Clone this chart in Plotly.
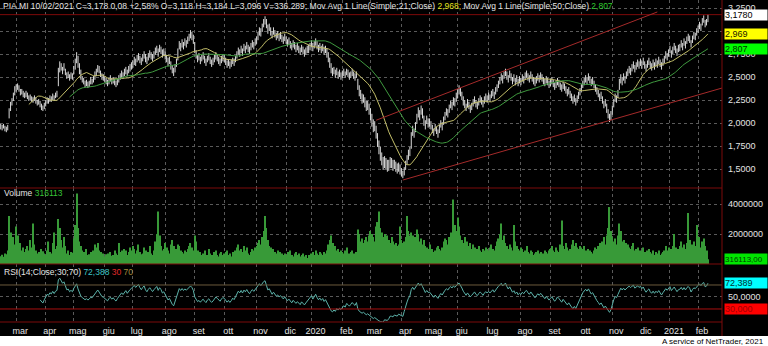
import pandas as pd
import plotly.graph_objects as go
from plotly.subplots import make_subplots

FONT = "Liberation Sans, Arial, sans-serif"
TEXT = "#e4e4e4"
BORDER = "#7d0a0a"
GRID = "#5a5a5a"

# Borsa Italiana weekday closures inside the period
holidays = ["2019-04-19", "2019-04-22", "2019-05-01", "2019-08-15", "2019-12-24",
            "2019-12-25", "2019-12-26", "2019-12-31", "2020-01-01", "2020-04-10",
            "2020-04-13", "2020-05-01", "2020-12-24", "2020-12-25", "2020-12-31",
            "2021-01-01"]
sessions = pd.bdate_range("2019-02-14", "2021-02-10")
dates = sessions[~sessions.isin(pd.to_datetime(holidays))]

# PIA.MI daily sessions, one line per month
closes = [
    1.96, 1.95, 1.97, 1.94, 1.93, 1.96, 2.12, 2.20, 2.24, 2.30, 2.36,
    2.38, 2.40, 2.36, 2.33, 2.34, 2.31, 2.30, 2.32, 2.29, 2.27, 2.28, 2.26, 2.25, 2.27, 2.24, 2.22, 2.23, 2.20, 2.18, 2.16, 2.19,
    2.22, 2.25, 2.24, 2.27, 2.26, 2.29, 2.27, 2.30, 2.31, 2.55, 2.63, 2.60, 2.57, 2.62, 2.56, 2.51, 2.53, 2.49, 2.52, 2.50,
    2.58, 2.66, 2.72, 2.64, 2.57, 2.50, 2.47, 2.45, 2.42, 2.44, 2.41, 2.43, 2.46, 2.45, 2.48, 2.52, 2.55, 2.60, 2.57, 2.53, 2.50, 2.49,
    2.47, 2.45, 2.43, 2.46, 2.48, 2.45, 2.47, 2.44, 2.42, 2.45, 2.48, 2.50, 2.53, 2.51, 2.55, 2.57, 2.54, 2.58, 2.60, 2.62,
    2.64, 2.68, 2.66, 2.70, 2.72, 2.69, 2.67, 2.71, 2.74, 2.70, 2.68, 2.72, 2.75, 2.73, 2.71, 2.74, 2.78, 2.80, 2.76, 2.81, 2.79, 2.75, 2.77,
    2.73, 2.70, 2.66, 2.68, 2.62, 2.58, 2.55, 2.60, 2.66, 2.77, 2.85, 2.82, 2.87, 2.84, 2.88, 2.86, 2.90, 2.93, 2.97, 2.95, 2.91,
    2.80, 2.74, 2.70, 2.72, 2.68, 2.71, 2.73, 2.69, 2.66, 2.70, 2.72, 2.68, 2.65, 2.67, 2.70, 2.73, 2.71, 2.68, 2.66, 2.69, 2.71,
    2.70, 2.67, 2.64, 2.66, 2.63, 2.65, 2.68, 2.66, 2.70, 2.74, 2.78, 2.76, 2.80, 2.77, 2.82, 2.80, 2.84, 2.81, 2.79, 2.83, 2.86, 2.84, 2.88,
    2.90, 2.95, 3.00, 2.98, 3.04, 3.09, 3.12, 3.06, 3.01, 3.04, 2.99, 2.96, 3.00, 2.97, 2.94, 2.96, 2.93, 2.95, 2.92, 2.90, 2.93,
    2.90, 2.87, 2.89, 2.85, 2.83, 2.86, 2.84, 2.81, 2.83, 2.80, 2.78, 2.81, 2.79, 2.76, 2.78, 2.80, 2.82, 2.83,
    2.86, 2.82, 2.85, 2.88, 2.84, 2.81, 2.83, 2.80, 2.82, 2.78, 2.80, 2.76, 2.70, 2.64, 2.58, 2.55, 2.57, 2.53, 2.56, 2.52, 2.54, 2.51,
    2.53, 2.55, 2.52, 2.56, 2.54, 2.51, 2.53, 2.55, 2.52, 2.50, 2.53, 2.40, 2.33, 2.30, 2.26, 2.27, 2.22, 2.18, 2.19, 2.14,
    2.08, 2.02, 1.96, 1.97, 1.88, 1.80, 1.72, 1.65, 1.60, 1.55, 1.58, 1.56, 1.52, 1.54, 1.57, 1.56, 1.53, 1.55, 1.52, 1.50, 1.52, 1.49,
    1.46, 1.43, 1.48, 1.55, 1.60, 1.66, 1.70, 1.85, 1.92, 1.88, 1.96, 2.05, 2.12, 2.08, 2.15, 2.10, 2.02, 1.98, 2.04, 2.00,
    2.01, 1.97, 1.93, 1.90, 1.95, 1.92, 1.88, 1.94, 1.99, 1.96, 2.03, 2.08, 2.12, 2.10, 2.16, 2.20, 2.18, 2.24, 2.22, 2.28,
    2.32, 2.36, 2.33, 2.29, 2.24, 2.20, 2.17, 2.22, 2.19, 2.15, 2.18, 2.22, 2.25, 2.21, 2.19, 2.23, 2.26, 2.24, 2.21, 2.25, 2.28, 2.26,
    2.29, 2.27, 2.31, 2.33, 2.30, 2.35, 2.38, 2.42, 2.46, 2.50, 2.47, 2.52, 2.55, 2.51, 2.48, 2.53, 2.50, 2.46, 2.49, 2.45, 2.48, 2.44, 2.47,
    2.45, 2.49, 2.47, 2.51, 2.53, 2.50, 2.48, 2.52, 2.49, 2.46, 2.44, 2.47, 2.50, 2.48, 2.51, 2.49, 2.46, 2.44, 2.47, 2.45, 2.42,
    2.44, 2.46, 2.43, 2.40, 2.42, 2.45, 2.43, 2.40, 2.38, 2.41, 2.39, 2.36, 2.33, 2.35, 2.31, 2.28, 2.25, 2.27, 2.23, 2.26, 2.30, 2.34,
    2.38, 2.42, 2.45, 2.48, 2.46, 2.50, 2.47, 2.44, 2.46, 2.42, 2.38, 2.35, 2.32, 2.28, 2.30, 2.25, 2.20, 2.22, 2.16, 2.10, 2.05, 2.08,
    2.15, 2.22, 2.28, 2.26, 2.32, 2.42, 2.48, 2.45, 2.50, 2.47, 2.52, 2.55, 2.58, 2.56, 2.60, 2.63, 2.59, 2.62, 2.65, 2.63, 2.66,
    2.63, 2.67, 2.63, 2.60, 2.64, 2.67, 2.63, 2.61, 2.65, 2.62, 2.66, 2.64, 2.68, 2.65, 2.62, 2.66, 2.69, 2.74, 2.72, 2.76,
    2.80, 2.75, 2.79, 2.83, 2.80, 2.77, 2.81, 2.82, 2.86, 2.83, 2.88, 2.85, 2.90, 2.93, 2.91, 2.86, 2.91, 2.95, 2.94, 2.99,
    3.02, 3.06, 3.04, 3.10, 3.13, 3.08, 3.098, 3.178,
]

highs = [
    1.99, 1.98, 1.99, 1.97, 1.96, 1.98, 2.16, 2.23, 2.27, 2.33, 2.40,
    2.42, 2.43, 2.41, 2.37, 2.37, 2.35, 2.33, 2.35, 2.33, 2.30, 2.31, 2.29, 2.28, 2.30, 2.28, 2.25, 2.26, 2.24, 2.21, 2.19, 2.22,
    2.25, 2.28, 2.27, 2.30, 2.29, 2.32, 2.30, 2.33, 2.35, 2.60, 2.67, 2.65, 2.61, 2.65, 2.59, 2.55, 2.56, 2.53, 2.55, 2.54,
    2.62, 2.70, 2.77, 2.73, 2.65, 2.58, 2.51, 2.49, 2.46, 2.47, 2.45, 2.46, 2.50, 2.48, 2.51, 2.56, 2.59, 2.63, 2.62, 2.57, 2.54, 2.53,
    2.51, 2.49, 2.47, 2.49, 2.52, 2.49, 2.50, 2.48, 2.46, 2.48, 2.52, 2.54, 2.57, 2.55, 2.59, 2.61, 2.58, 2.62, 2.64, 2.66,
    2.68, 2.72, 2.70, 2.74, 2.76, 2.73, 2.71, 2.75, 2.78, 2.75, 2.72, 2.76, 2.79, 2.77, 2.75, 2.78, 2.82, 2.84, 2.81, 2.85, 2.83, 2.80, 2.81,
    2.78, 2.74, 2.71, 2.72, 2.67, 2.63, 2.60, 2.64, 2.70, 2.81, 2.89, 2.87, 2.91, 2.88, 2.92, 2.90, 2.94, 2.97, 3.01, 2.99, 2.96,
    2.88, 2.79, 2.74, 2.76, 2.72, 2.74, 2.77, 2.73, 2.70, 2.73, 2.76, 2.72, 2.69, 2.71, 2.74, 2.77, 2.75, 2.72, 2.70, 2.73, 2.75,
    2.74, 2.71, 2.68, 2.69, 2.67, 2.69, 2.71, 2.70, 2.73, 2.78, 2.82, 2.80, 2.84, 2.81, 2.86, 2.84, 2.88, 2.85, 2.83, 2.87, 2.90, 2.88, 2.92,
    2.94, 2.99, 3.04, 3.03, 3.08, 3.13, 3.16, 3.13, 3.07, 3.08, 3.04, 3.00, 3.04, 3.01, 2.98, 3.00, 2.97, 2.99, 2.96, 2.94, 2.97,
    2.94, 2.91, 2.93, 2.89, 2.87, 2.90, 2.88, 2.85, 2.87, 2.84, 2.82, 2.85, 2.83, 2.80, 2.82, 2.84, 2.85, 2.87,
    2.90, 2.87, 2.89, 2.92, 2.89, 2.85, 2.87, 2.84, 2.86, 2.83, 2.84, 2.81, 2.77, 2.71, 2.65, 2.60, 2.61, 2.58, 2.60, 2.56, 2.58, 2.55,
    2.57, 2.59, 2.56, 2.59, 2.58, 2.55, 2.56, 2.59, 2.56, 2.54, 2.56, 2.48, 2.41, 2.36, 2.32, 2.31, 2.28, 2.24, 2.24, 2.21,
    2.16, 2.10, 2.04, 2.02, 1.97, 1.89, 1.81, 1.74, 1.68, 1.63, 1.64, 1.62, 1.60, 1.60, 1.63, 1.62, 1.60, 1.60, 1.58, 1.56, 1.57, 1.55,
    1.51, 1.48, 1.52, 1.59, 1.65, 1.71, 1.74, 1.90, 1.97, 1.94, 2.01, 2.10, 2.17, 2.14, 2.19, 2.16, 2.08, 2.03, 2.08, 2.05,
    2.05, 2.02, 1.98, 1.94, 1.99, 1.96, 1.93, 1.98, 2.03, 2.01, 2.07, 2.12, 2.16, 2.15, 2.20, 2.24, 2.23, 2.28, 2.27, 2.33,
    2.37, 2.41, 2.38, 2.34, 2.29, 2.25, 2.21, 2.26, 2.23, 2.19, 2.22, 2.26, 2.29, 2.25, 2.23, 2.27, 2.30, 2.28, 2.25, 2.29, 2.32, 2.30,
    2.33, 2.31, 2.35, 2.37, 2.34, 2.39, 2.42, 2.46, 2.50, 2.54, 2.52, 2.56, 2.59, 2.56, 2.52, 2.57, 2.54, 2.50, 2.53, 2.49, 2.52, 2.48, 2.51,
    2.49, 2.53, 2.51, 2.55, 2.57, 2.54, 2.52, 2.56, 2.53, 2.50, 2.48, 2.51, 2.54, 2.52, 2.55, 2.53, 2.50, 2.48, 2.51, 2.49, 2.46,
    2.48, 2.50, 2.47, 2.44, 2.46, 2.49, 2.47, 2.44, 2.42, 2.45, 2.43, 2.40, 2.37, 2.39, 2.35, 2.32, 2.29, 2.31, 2.27, 2.30, 2.34, 2.38,
    2.42, 2.46, 2.49, 2.52, 2.50, 2.54, 2.51, 2.48, 2.50, 2.46, 2.42, 2.39, 2.36, 2.32, 2.34, 2.29, 2.24, 2.26, 2.21, 2.15, 2.10, 2.13,
    2.19, 2.26, 2.32, 2.30, 2.36, 2.48, 2.53, 2.50, 2.54, 2.51, 2.56, 2.59, 2.62, 2.60, 2.64, 2.67, 2.63, 2.66, 2.69, 2.67, 2.70,
    2.67, 2.71, 2.67, 2.64, 2.68, 2.71, 2.67, 2.65, 2.69, 2.66, 2.70, 2.68, 2.72, 2.69, 2.66, 2.70, 2.73, 2.78, 2.76, 2.80,
    2.84, 2.79, 2.83, 2.87, 2.84, 2.81, 2.85, 2.86, 2.90, 2.87, 2.92, 2.89, 2.94, 2.97, 2.95, 2.90, 2.95, 2.99, 2.98, 3.03,
    3.06, 3.10, 3.08, 3.14, 3.17, 3.12, 3.13, 3.184,
]

lows = [
    1.93, 1.92, 1.94, 1.91, 1.90, 1.92, 2.05, 2.13, 2.19, 2.24, 2.30,
    2.34, 2.36, 2.34, 2.30, 2.31, 2.28, 2.27, 2.28, 2.26, 2.24, 2.25, 2.23, 2.22, 2.24, 2.21, 2.19, 2.20, 2.17, 2.14, 2.13, 2.15,
    2.18, 2.21, 2.21, 2.23, 2.23, 2.25, 2.24, 2.27, 2.28, 2.40, 2.55, 2.57, 2.53, 2.57, 2.52, 2.48, 2.49, 2.46, 2.48, 2.47,
    2.53, 2.58, 2.65, 2.60, 2.53, 2.47, 2.44, 2.42, 2.39, 2.40, 2.38, 2.39, 2.42, 2.42, 2.44, 2.47, 2.51, 2.55, 2.54, 2.50, 2.47, 2.46,
    2.44, 2.42, 2.40, 2.42, 2.45, 2.42, 2.43, 2.41, 2.39, 2.41, 2.44, 2.47, 2.49, 2.48, 2.51, 2.53, 2.51, 2.54, 2.56, 2.58,
    2.60, 2.63, 2.62, 2.66, 2.68, 2.65, 2.63, 2.67, 2.70, 2.66, 2.64, 2.68, 2.71, 2.69, 2.67, 2.70, 2.74, 2.76, 2.72, 2.77, 2.75, 2.71, 2.73,
    2.69, 2.66, 2.62, 2.64, 2.58, 2.54, 2.51, 2.55, 2.61, 2.68, 2.80, 2.78, 2.82, 2.80, 2.84, 2.82, 2.86, 2.89, 2.92, 2.90, 2.86,
    2.76, 2.70, 2.66, 2.68, 2.64, 2.67, 2.69, 2.65, 2.62, 2.66, 2.68, 2.64, 2.61, 2.63, 2.66, 2.69, 2.67, 2.64, 2.62, 2.65, 2.67,
    2.66, 2.63, 2.60, 2.62, 2.59, 2.61, 2.64, 2.62, 2.66, 2.70, 2.74, 2.72, 2.76, 2.73, 2.78, 2.76, 2.80, 2.77, 2.75, 2.79, 2.82, 2.80, 2.84,
    2.86, 2.90, 2.95, 2.94, 2.99, 3.04, 3.07, 3.03, 2.97, 3.00, 2.95, 2.92, 2.96, 2.93, 2.90, 2.92, 2.89, 2.91, 2.88, 2.86, 2.89,
    2.86, 2.83, 2.85, 2.81, 2.79, 2.82, 2.80, 2.77, 2.79, 2.76, 2.74, 2.77, 2.75, 2.72, 2.74, 2.76, 2.76, 2.79,
    2.82, 2.78, 2.81, 2.84, 2.80, 2.77, 2.79, 2.76, 2.78, 2.74, 2.76, 2.71, 2.66, 2.60, 2.54, 2.51, 2.53, 2.49, 2.52, 2.48, 2.50, 2.47,
    2.49, 2.51, 2.49, 2.52, 2.50, 2.47, 2.49, 2.51, 2.48, 2.46, 2.49, 2.36, 2.29, 2.26, 2.21, 2.22, 2.17, 2.13, 2.14, 2.09,
    2.03, 1.96, 1.90, 1.91, 1.83, 1.74, 1.66, 1.59, 1.54, 1.49, 1.51, 1.50, 1.47, 1.48, 1.51, 1.51, 1.48, 1.50, 1.47, 1.45, 1.47, 1.44,
    1.42, 1.40, 1.43, 1.49, 1.55, 1.60, 1.64, 1.72, 1.86, 1.84, 1.90, 1.99, 2.06, 2.03, 2.09, 2.05, 1.97, 1.93, 1.99, 1.95,
    1.96, 1.93, 1.89, 1.86, 1.91, 1.88, 1.84, 1.89, 1.95, 1.92, 1.98, 2.03, 2.08, 2.06, 2.11, 2.16, 2.14, 2.19, 2.18, 2.23,
    2.27, 2.31, 2.29, 2.25, 2.19, 2.16, 2.13, 2.17, 2.15, 2.11, 2.14, 2.18, 2.21, 2.17, 2.15, 2.19, 2.22, 2.20, 2.17, 2.21, 2.24, 2.22,
    2.25, 2.23, 2.27, 2.29, 2.26, 2.31, 2.34, 2.38, 2.42, 2.46, 2.43, 2.48, 2.51, 2.47, 2.44, 2.49, 2.46, 2.42, 2.45, 2.41, 2.44, 2.40, 2.43,
    2.41, 2.45, 2.43, 2.47, 2.49, 2.46, 2.44, 2.48, 2.45, 2.42, 2.40, 2.43, 2.46, 2.44, 2.47, 2.45, 2.42, 2.40, 2.43, 2.41, 2.38,
    2.40, 2.42, 2.39, 2.36, 2.38, 2.41, 2.39, 2.36, 2.34, 2.37, 2.35, 2.32, 2.29, 2.31, 2.27, 2.24, 2.21, 2.23, 2.19, 2.22, 2.26, 2.30,
    2.34, 2.38, 2.41, 2.44, 2.42, 2.46, 2.43, 2.40, 2.42, 2.38, 2.34, 2.31, 2.28, 2.24, 2.26, 2.21, 2.16, 2.18, 2.11, 2.05, 2.01, 2.03,
    2.09, 2.17, 2.23, 2.22, 2.27, 2.36, 2.43, 2.41, 2.46, 2.43, 2.48, 2.51, 2.54, 2.52, 2.56, 2.59, 2.55, 2.58, 2.61, 2.59, 2.62,
    2.59, 2.63, 2.59, 2.56, 2.60, 2.63, 2.59, 2.57, 2.61, 2.58, 2.62, 2.60, 2.64, 2.61, 2.58, 2.62, 2.65, 2.70, 2.68, 2.72,
    2.76, 2.71, 2.75, 2.79, 2.76, 2.73, 2.77, 2.78, 2.82, 2.79, 2.84, 2.81, 2.86, 2.89, 2.87, 2.82, 2.87, 2.91, 2.90, 2.95,
    2.98, 3.02, 3.00, 3.06, 3.09, 3.04, 3.06, 3.096,
]

# thousands of shares
volumes_k = [
    520, 610, 480, 700, 650, 900, 3200, 2100, 1500, 1800, 1300,
    2500, 1900, 1200, 1400, 900, 1100, 800, 1000, 1200, 900, 1600, 1100, 2700, 1300, 900, 700, 800, 650, 1000, 850, 700,
    600, 900, 1500, 800, 700, 1400, 2100, 1000, 1200, 3000, 2400, 1600, 1100, 1800, 1200, 700, 900, 600, 800, 750,
    1700, 2600, 4700, 2400, 1500, 1200, 900, 800, 700, 1000, 600, 650, 800, 700, 900, 1300, 1100, 1400, 900, 800, 600, 700,
    500, 650, 700, 600, 800, 550, 600, 900, 700, 600, 1400, 800, 900, 700, 1000, 900, 600, 800, 1100, 900,
    1200, 1000, 700, 900, 1300, 800, 650, 700, 1100, 900, 600, 800, 1200, 700, 600, 900, 1500, 2000, 3500, 1900, 1200, 900, 1000,
    1400, 1100, 900, 700, 1300, 1600, 1200, 900, 1000, 1300, 1200, 900, 800, 700, 900, 800, 1000, 1200, 1400, 1100, 900,
    1900, 1500, 900, 700, 800, 600, 700, 900, 500, 600, 1000, 700, 600, 500, 800, 900, 600, 500, 700, 800, 600,
    700, 800, 900, 600, 700, 500, 800, 600, 900, 1100, 1300, 900, 1000, 800, 1200, 900, 1100, 700, 600, 800, 1000, 900, 1100,
    1200, 1400, 1600, 1300, 1800, 2200, 3200, 2400, 1600, 1200, 1100, 900, 1000, 800, 700, 900, 600, 800, 700, 600, 700,
    600, 800, 700, 900, 600, 500, 700, 800, 600, 700, 500, 600, 700, 500, 600, 400, 600, 400,
    700, 800, 600, 900, 700, 600, 800, 700, 600, 800, 700, 900, 1300, 1600, 1900, 1400, 1100, 1200, 900, 1000, 800, 900,
    800, 700, 900, 1100, 600, 700, 800, 900, 700, 600, 800, 2300, 2000, 1500, 1700, 1400, 1600, 1800, 1500, 1900,
    2200, 2000, 1800, 1500, 2500, 2800, 3500, 2400, 2100, 1800, 2000, 1700, 1900, 1600, 1400, 1800, 1500, 1300, 1400, 1200, 1300, 2500,
    1600, 1400, 1500, 1800, 3200, 2200, 1900, 2100, 1900, 1400, 1800, 2300, 2000, 1500, 1700, 1300, 1600, 1200, 1100, 1000,
    1300, 900, 1000, 800, 900, 1100, 1200, 1000, 900, 1100, 1500, 1700, 1600, 1300, 1800, 2100, 1500, 4300, 2600, 2200,
    3100, 2500, 1900, 1600, 1400, 1800, 1300, 1500, 1200, 1400, 1000, 1300, 1100, 900, 1000, 1200, 900, 800, 1000, 900, 1100, 1000,
    900, 1100, 1300, 1000, 900, 1200, 1500, 1700, 2000, 2700, 1600, 1900, 1400, 1200, 1000, 1300, 1100, 900, 2600, 1500, 1200, 1000, 900,
    1100, 1000, 800, 900, 1200, 800, 700, 900, 800, 600, 700, 800, 900, 700, 800, 600, 700, 900, 800, 700, 900,
    1000, 1200, 900, 800, 1100, 900, 800, 1300, 2900, 1200, 1000, 1400, 1100, 900, 1000, 1300, 1600, 1200, 1400, 1100, 1000, 1200,
    1100, 1000, 1200, 900, 800, 1000, 900, 800, 700, 900, 1100, 1000, 1200, 1400, 1100, 1500, 1800, 1300, 1900, 2400, 3800, 2200,
    1800, 1500, 1700, 1300, 1900, 2700, 2200, 1500, 1600, 1200, 1400, 1300, 1100, 1000, 1200, 1400, 900, 1000, 1100, 800, 900,
    900, 1100, 800, 700, 900, 1000, 800, 700, 900, 600, 800, 700, 900, 600, 700, 800, 900, 1200, 900, 1100,
    900, 1000, 1200, 2000, 1100, 900, 1000, 1200, 1500, 1100, 1300, 1000, 1400, 3400, 1600, 1200, 1300, 1500, 1200, 2600,
    1400, 1800, 1100, 1500, 1700, 1200, 900, 316.113,
]

month_labels = ["mar", "apr", "mag", "giu", "lug", "ago", "set", "ott", "nov", "dic", "2020", "feb",
                "mar", "apr", "mag", "giu", "lug", "ago", "set", "ott", "nov", "dic", "2021", "feb"]
price_ticks = [1.5, 1.75, 2.0, 2.25, 2.5, 2.75, 3.0, 3.25]
# 3,0000 sits under the MA21 value box, so it carries no label
price_tick_labels = ["1,5000", "1,7500", "2,0000", "2,2500", "2,5000", "2,7500", "", "3,2500"]
volume_ticks = [2_000_000, 4_000_000]
rsi_bands = [30, 70]

# drawn trend lines (date, price)
upper_trend_dates = ["2020-03-06", "2020-12-16"]
upper_trend_prices = [2.03, 3.207]
lower_trend_dates = ["2020-04-02", "2021-02-24"]
lower_trend_prices = [1.38, 2.38]

n = len(dates)
assert len(closes) == len(highs) == len(lows) == len(volumes_k) == n, (
    n, len(closes), len(highs), len(lows), len(volumes_k))

# indicators
close_s = pd.Series(closes, index=dates)
ma21 = close_s.rolling(21).mean()
ma50 = close_s.rolling(50).mean()
delta = close_s.diff()
avg_up = delta.clip(lower=0).ewm(alpha=1 / 14, adjust=False).mean()
avg_dn = (-delta.clip(upper=0)).ewm(alpha=1 / 14, adjust=False).mean()
rsi = 100 - 100 / (1 + avg_up / avg_dn)
rsi.iloc[:28] = float("nan")
volumes = [v * 1000 for v in volumes_k]

# panes: price 188 px, volume 76 px, RSI 58 px
PLOT_H = 322
def py(px):
    return 1 - px / PLOT_H

fig = make_subplots(rows=3, cols=1, shared_xaxes=True, vertical_spacing=0,
                    row_heights=[188, 76, 58])

# daily high-low bars
seg_x, seg_y = [], []
for d, lo, hi in zip(dates, lows, highs):
    seg_x += [d, d, None]
    seg_y += [lo, hi, None]
fig.add_trace(go.Scatter(x=seg_x, y=seg_y, mode="lines",
                         line=dict(color="#dadada", width=1)), row=1, col=1)
fig.add_trace(go.Scatter(x=dates, y=ma21, mode="lines",
                         line=dict(color="#c4bf6a", width=1)), row=1, col=1)
fig.add_trace(go.Scatter(x=dates, y=ma50, mode="lines",
                         line=dict(color="#3f9a3f", width=1)), row=1, col=1)

fig.add_trace(go.Bar(x=dates, y=volumes, marker=dict(color="#389a38", line=dict(width=0))),
              row=2, col=1)

fig.add_trace(go.Scatter(x=dates, y=rsi, mode="lines",
                         line=dict(color="#5cb3aa", width=1)), row=3, col=1)

month_starts = dates.to_series().groupby(dates.to_period("M")).min().iloc[1:].tolist()
x_range = ["2019-02-13 12:00", "2021-02-24"]

tick_font = dict(family=FONT, size=9, color=TEXT)
fig.update_xaxes(
    range=x_range,
    rangebreaks=[dict(bounds=["sat", "mon"]), dict(values=holidays)],
    tickmode="array", tickvals=month_starts, ticktext=month_labels,
    showgrid=True, gridcolor=GRID, griddash="dot", gridwidth=1,
    zeroline=False, showline=False, ticks="", showticklabels=False,
)
fig.update_xaxes(row=3, col=1, showticklabels=True, tickfont=tick_font,
                 ticklabelshift=4, ticklabelstandoff=2)

common_y = dict(side="right", tickmode="array", showgrid=True, gridcolor=GRID,
                griddash="dot", gridwidth=1, zeroline=False, showline=False,
                ticks="", tickfont=tick_font, ticklabelstandoff=5)
fig.update_yaxes(row=1, col=1, range=[1.2935, 3.337], tickvals=price_ticks,
                 ticktext=price_tick_labels, **common_y)
fig.update_yaxes(row=2, col=1, range=[0, 5.07e6], tickvals=volume_ticks,
                 ticktext=[str(v) for v in volume_ticks], **common_y)
fig.update_yaxes(row=3, col=1, range=[8.3, 105], tickvals=[50],
                 ticktext=["50,0000"], **common_y)

# last price, trend lines, RSI bands
fig.add_shape(type="line", xref="paper", x0=0, x1=1, yref="y", y0=closes[-1], y1=closes[-1],
              line=dict(color=BORDER, width=1))
fig.add_shape(type="line", xref="x", yref="y",
              x0=upper_trend_dates[0], x1=upper_trend_dates[1],
              y0=upper_trend_prices[0], y1=upper_trend_prices[1],
              line=dict(color="#a52a2a", width=1))
fig.add_shape(type="line", xref="x", yref="y",
              x0=lower_trend_dates[0], x1=lower_trend_dates[1],
              y0=lower_trend_prices[0], y1=lower_trend_prices[1],
              line=dict(color="#a52a2a", width=1))
for level, color in zip(rsi_bands, ["#a80f0f", "#6b5a3c"]):
    fig.add_shape(type="line", xref="paper", x0=0, x1=1, yref="y3", y0=level, y1=level,
                  line=dict(color=color, width=1))

# pane borders
for yb in [py(188), py(264), py(322)]:
    fig.add_shape(type="line", xref="paper", yref="paper", x0=0, x1=1, y0=yb, y1=yb,
                  line=dict(color=BORDER, width=1))
fig.add_shape(type="line", xref="paper", yref="paper", x0=1, x1=1, y0=py(336), y1=1,
              line=dict(color=BORDER, width=1))

# white footer strip
fig.add_shape(type="rect", xref="paper", yref="paper", x0=-0.01, x1=1.1,
              y0=py(360), y1=py(336), fillcolor="#ffffff", line=dict(width=0), layer="above")

label_font = dict(family=FONT, size=8.5, color=TEXT)
header = ("PIA.MI 10/02/2021 C=3,178 0,08 +2,58% O=3,118 H=3,184 L=3,096 V=336.289; "
          "Mov Avg 1 Line(Simple;21;Close) <span style='color:#e2e21e'>2,968;</span> "
          "Mov Avg 1 Line(Simple;50;Close) <span style='color:#2fcf2f'>2,807</span>")
fig.add_annotation(xref="paper", yref="paper", x=0, xshift=1, y=py(6), xanchor="left",
                   yanchor="middle", text=header, showarrow=False, font=label_font)
fig.add_annotation(xref="paper", yref="paper", x=0, xshift=2, y=py(193), xanchor="left",
                   yanchor="middle", showarrow=False, font=label_font,
                   text="Volume <span style='color:#37c437'>316113</span>")
fig.add_annotation(xref="paper", yref="paper", x=0, xshift=2, y=py(272), xanchor="left",
                   yanchor="middle", showarrow=False, font=label_font,
                   text=("RSI(14;Close;30;70) <span style='color:#3cc6c6'>72,388</span> "
                         "<span style='color:#e02a2a'>30</span> "
                         "<span style='color:#a48f3c'>70</span>"))

def value_box(text, yref, y, bg, fg, size=9):
    fig.add_annotation(xref="paper", x=1, xshift=2, xanchor="left", yref=yref, y=y,
                       yanchor="middle", text=text, showarrow=False, bgcolor=bg,
                       font=dict(family=FONT, size=size, color=fg), width=42, height=10,
                       align="left", borderpad=0)

value_box("3,1780", "y", closes[-1], "#ffffff", "#000000")
value_box("2,969", "y", ma21.iloc[-1], "#ffff00", "#202000")
value_box("2,807", "y", ma50.iloc[-1], "#00ff00", "#003000")
value_box("316113,00", "y2", volumes[-1], "#00e600", "#004000", size=8)
value_box("72,389", "y3", rsi.iloc[-1], "#00ffff", "#003030")
value_box("30,000", "y3", rsi_bands[0], "#ff0000", "#a00000")

fig.add_annotation(xref="paper", yref="paper", x=766 / 722, y=py(341), xanchor="right",
                   yanchor="middle", showarrow=False, text="A service of NetTrader, 2021",
                   font=dict(family=FONT, size=8, color="#000000"))

fig.update_layout(
    width=768, height=346, margin=dict(l=0, r=46, t=0, b=24),
    paper_bgcolor="#000000", plot_bgcolor="#000000",
    showlegend=False, bargap=0.25, hovermode=False,
)

fig.write_html("out.html")
